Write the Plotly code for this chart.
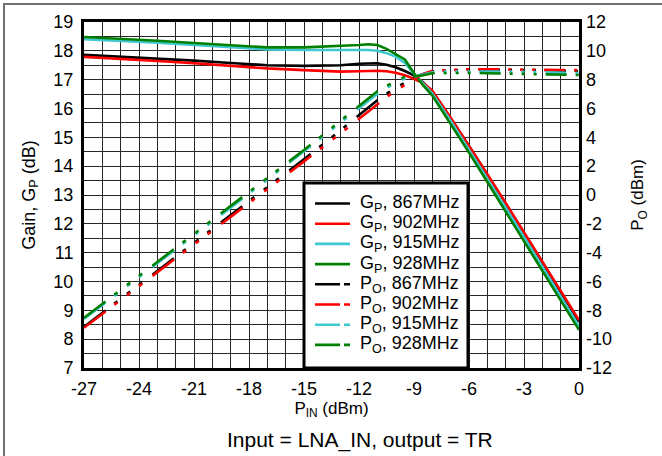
import plotly.graph_objects as go

# Input power sweep (dBm)
p_in = [-27, -25, -23, -21, -19, -17, -15, -13, -12, -11.5, -11, -10.5, -10,
        -9.5, -9, -8.5, -8, -7, -6, -5, -4, -3, -2, -1, 0]

# Power gain G_P (dB)
gain_867 = [17.86, 17.80, 17.73, 17.66, 17.58, 17.50, 17.48, 17.50, 17.55, 17.57,
            17.57, 17.52, 17.43, 17.30, 17.15, 16.90, 16.58, 15.65, 14.70, 13.70,
            12.70, 11.68, 10.66, 9.63, 8.60]
gain_902 = [17.79, 17.73, 17.65, 17.57, 17.48, 17.39, 17.33, 17.28, 17.29, 17.30,
            17.31, 17.29, 17.24, 17.15, 17.03, 16.88, 16.62, 15.68, 14.72, 13.72,
            12.72, 11.70, 10.68, 9.67, 8.66]
gain_915 = [18.40, 18.35, 18.28, 18.20, 18.12, 18.05, 18.03, 18.02, 18.03, 18.03,
            18.00, 17.92, 17.80, 17.58, 17.20, 16.85, 16.52, 15.57, 14.58, 13.58,
            12.56, 11.54, 10.52, 9.49, 8.45]
gain_928 = [18.48, 18.42, 18.35, 18.27, 18.19, 18.12, 18.12, 18.16, 18.20, 18.23,
            18.20, 18.07, 17.87, 17.70, 17.22, 16.80, 16.45, 15.47, 14.47, 13.45,
            12.42, 11.40, 10.37, 9.35, 8.32]

# Output power P_O (dBm)
po_867 = [-9.14, -7.20, -5.27, -3.34, -1.42, 0.50, 2.48, 4.50, 5.55, 6.07, 6.57,
          7.02, 7.43, 7.80, 8.15, 8.40, 8.58, 8.65, 8.70, 8.70, 8.70, 8.68, 8.66,
          8.63, 8.60]
po_902 = [-9.21, -7.27, -5.35, -3.43, -1.52, 0.39, 2.33, 4.28, 5.29, 5.80, 6.31,
          6.79, 7.24, 7.65, 8.03, 8.38, 8.62, 8.68, 8.72, 8.72, 8.72, 8.70, 8.68,
          8.67, 8.66]
po_915 = [-8.60, -6.65, -4.72, -2.80, -0.88, 1.05, 3.03, 5.02, 6.03, 6.53, 7.00,
          7.42, 7.80, 8.08, 8.20, 8.35, 8.52, 8.57, 8.58, 8.58, 8.56, 8.54, 8.52,
          8.49, 8.45]
po_928 = [-8.52, -6.58, -4.65, -2.73, -0.81, 1.12, 3.12, 5.16, 6.20, 6.73, 7.20,
          7.57, 7.87, 8.20, 8.22, 8.30, 8.45, 8.47, 8.47, 8.45, 8.42, 8.40, 8.37,
          8.35, 8.32]

# Tick labels
x_ticks = [-27, -24, -21, -18, -15, -12, -9, -6, -3, 0]
x_tick_text = ["-27", "-24", "-21", "-18", "-15", "-12", "-9", "-6", "-3", "0"]
y2_ticks = [12, 10, 8, 6, 4, 2, 0, -2, -4, -6, -8, -10, -12]
y2_tick_text = ["12", "10", "8", "6", "4", "2", "0", "-2", "-4", "-6", "-8", "-10", "-12"]

freqs = ["867MHz", "902MHz", "915MHz", "928MHz"]
colors = ["#000000", "#ff0000", "#3fc8d0", "#008000"]
gains = [gain_867, gain_902, gain_915, gain_928]
pouts = [po_867, po_902, po_915, po_928]

FONT = "Arial, Liberation Sans, sans-serif"
LW = 2.6
SLOPE_DASH = "27px,11px,4px,12px,4px,11px,4px,13px"
FLAT_DASH = "21px,9px,3px,9px,3px,9px,3px,9px"
LEGEND_PO_DASH = "25px,4px,6px,100px"
knee = p_in.index(-9)

W, H = 662, 456
ML, MR, MT, MB = 84, 83, 22, 88
PW, PH = W - ML - MR, H - MT - MB


def px(x):
    return (x - ML) / PW


def py(y):
    return (H - MB - y) / PH


fig = go.Figure()

for f, c, g in zip(freqs, colors, gains):
    fig.add_trace(go.Scatter(
        x=p_in, y=g, mode="lines", name=f"G<sub>P</sub>, {f}",
        line=dict(color=c, width=LW), yaxis="y"))

for f, c, po in zip(freqs, colors, pouts):
    fig.add_trace(go.Scatter(
        x=p_in[:knee + 1], y=po[:knee + 1], mode="lines",
        name=f"P<sub>O</sub>, {f}",
        line=dict(color=c, width=LW, dash=SLOPE_DASH), yaxis="y2"))
    fig.add_trace(go.Scatter(
        x=p_in[knee:], y=po[knee:], mode="lines",
        name=f"P<sub>O</sub>, {f}",
        line=dict(color=c, width=LW, dash=FLAT_DASH), yaxis="y2"))

# Boxed legend drawn with layout shapes and annotations
shapes = [
    dict(type="rect", xref="paper", yref="paper",
         x0=-0.1616, x1=1.3, y0=-0.4, y1=1.052,
         line=dict(color="#707070", width=2), layer="below"),
    dict(type="rect", xref="paper", yref="paper",
         x0=px(304), x1=px(468), y0=py(368), y1=py(183),
         fillcolor="white", line=dict(color="black", width=3), layer="above"),
]
annotations = []
entries = [(f"G<sub>P</sub>, {f}", c, "solid") for f, c in zip(freqs, colors)] + \
          [(f"P<sub>O</sub>, {f}", c, LEGEND_PO_DASH) for f, c in zip(freqs, colors)]
for i, (label, c, dash) in enumerate(entries):
    row_y = 203.5 + i * 20.2
    shapes.append(dict(type="line", xref="paper", yref="paper",
                       x0=px(315), x1=px(350), y0=py(row_y), y1=py(row_y),
                       line=dict(color=c, width=2.6, dash=dash), layer="above"))
    annotations.append(dict(xref="paper", yref="paper", x=px(358), y=py(row_y),
                            xanchor="left", yanchor="middle", showarrow=False,
                            text=label, font=dict(size=18, family=FONT, color="black")))

annotations.append(dict(xref="paper", yref="paper", x=px(360), y=py(440),
                        xanchor="center", yanchor="middle", showarrow=False,
                        text="Input = LNA_IN, output = TR",
                        font=dict(size=21, family=FONT, color="black")))

grid_col = "#262626"
fig.update_layout(
    width=W, height=H,
    margin=dict(l=ML, r=MR, t=MT, b=MB),
    paper_bgcolor="white", plot_bgcolor="white",
    showlegend=False,
    font=dict(family=FONT, size=18, color="black"),
    xaxis=dict(range=[-27, 0], tickmode="array", tickvals=x_ticks, ticktext=x_tick_text,
               showgrid=True, gridcolor=grid_col, gridwidth=1,
               minor=dict(dtick=1, tick0=-27, showgrid=True, gridcolor=grid_col, gridwidth=1),
               showline=True, linecolor="black", linewidth=3, mirror=True,
               zeroline=False, ticks="", ticklabelstandoff=2,
               title=dict(text="P<sub>IN</sub> (dBm)", standoff=2,
                          font=dict(size=17))),
    yaxis=dict(range=[7, 19], tickmode="linear", tick0=7, dtick=1,
               showgrid=True, gridcolor=grid_col, gridwidth=1,
               minor=dict(dtick=0.5, showgrid=True, gridcolor=grid_col, gridwidth=1),
               showline=True, linecolor="black", linewidth=3, mirror=True,
               zeroline=False, ticks="", ticklabelstandoff=4,
               title=dict(text="Gain, G<sub>P</sub> (dB)", standoff=14,
                          font=dict(size=18))),
    yaxis2=dict(range=[-12, 12], tickmode="array", tickvals=y2_ticks, ticktext=y2_tick_text,
                overlaying="y", side="right", showgrid=False, zeroline=False,
                showline=False, ticks="", ticklabelstandoff=6,
                title=dict(text="P<sub>O</sub> (dBm)", standoff=20,
                           font=dict(size=17))),
    shapes=shapes,
    annotations=annotations,
)

fig.write_html("out.html")
